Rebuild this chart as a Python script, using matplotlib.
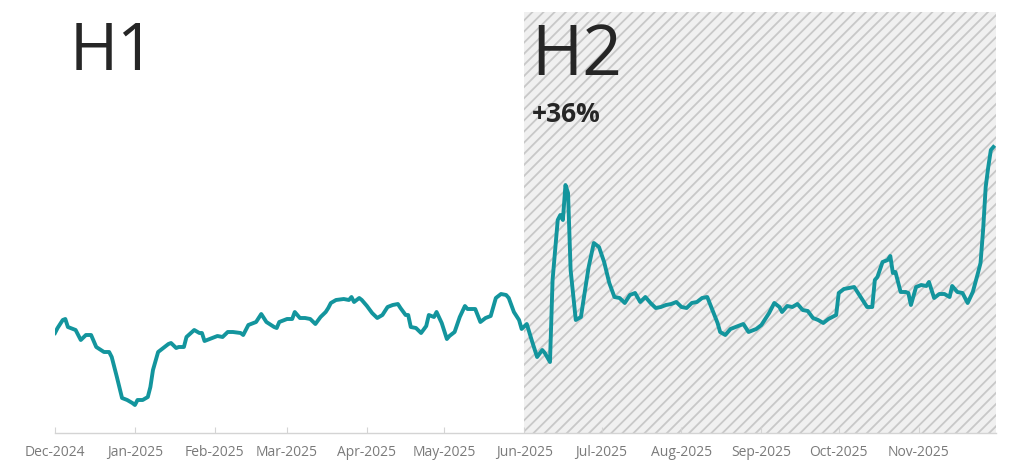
import matplotlib
matplotlib.use("Agg")
import matplotlib.pyplot as plt
import matplotlib.dates as mdates
import numpy as np
import pandas as pd

# days since 2024-12-01 and index values
days = [0, 1, 3, 4, 5, 7, 8, 10, 12, 14, 16, 19, 21, 22, 24, 26, 28, 30, 31, 32,
        34, 36, 37, 38, 40, 42, 44, 45, 47, 48, 50, 51, 54, 56, 57, 58, 61, 63, 65, 67,
        69, 72, 73, 75, 78, 80, 82, 85, 86, 87, 90, 92, 93, 95, 97, 99, 101, 103, 105, 106,
        107, 109, 112, 114, 115, 116, 118, 119, 121, 123, 125, 127, 129, 131, 133, 134, 136, 137, 138, 140,
        142, 144, 145, 147, 148, 150, 152, 153, 155, 157, 159, 160, 163, 165, 167, 169, 171, 173, 175, 176,
        178, 180, 181, 183, 185, 187, 189, 190, 192, 193, 195, 196, 197, 198, 199, 200, 202, 204, 205, 207,
        209, 211, 213, 215, 217, 219, 221, 223, 225, 227, 229, 231, 233, 235, 237, 239, 241, 243, 245, 247,
        249, 251, 253, 255, 257, 258, 260, 262, 264, 267, 269, 272, 274, 276, 277, 279, 281, 282, 284, 286,
        288, 290, 292, 294, 296, 298, 300, 303, 304, 306, 308, 310, 312, 314, 315, 317, 318, 319, 321, 323,
        324, 325, 326, 328, 330, 331, 332, 334, 336, 338, 339, 341, 343, 345, 347, 348, 350, 352, 353, 354,
        356, 358, 359, 360, 361, 362, 363, 364]
values = [112, 117, 125, 126, 118, 116, 115, 105, 110, 110, 98, 93, 93, 88, 68, 47, 45, 42, 40, 45,
          45, 48, 58, 75, 93, 97, 101, 102, 97, 98, 98, 108, 115, 112, 112, 104, 107, 109, 108, 113,
          113, 112, 110, 120, 123, 131, 123, 118, 117, 123, 126, 126, 133, 127, 127, 126, 121, 128, 133, 137,
          142, 145, 146, 145, 148, 143, 147, 145, 139, 132, 127, 130, 138, 140, 141, 137, 130, 130, 118, 117,
          112, 119, 130, 128, 133, 122, 106, 109, 113, 128, 139, 136, 136, 123, 127, 129, 147, 151, 150, 147,
          133, 125, 116, 121, 104, 88, 95, 92, 83, 165, 225, 230, 225, 260, 252, 175, 125, 128, 145, 178,
          202, 198, 183, 162, 148, 147, 142, 150, 152, 143, 148, 142, 137, 138, 140, 141, 143, 138, 137, 142,
          143, 147, 148, 135, 122, 113, 110, 116, 118, 121, 113, 116, 120, 128, 132, 142, 138, 133, 139, 138,
          141, 135, 134, 127, 125, 122, 126, 130, 152, 156, 157, 158, 150, 142, 138, 138, 165, 168, 183, 185,
          189, 172, 173, 153, 153, 152, 140, 158, 160, 159, 163, 147, 151, 151, 148, 159, 153, 152, 147, 142,
          153, 172, 182, 215, 258, 278, 295, 298]

start = pd.Timestamp("2024-12-01")
h2_start = pd.Timestamp("2025-06-01")
end = pd.Timestamp("2025-12-01")
dates = start + pd.to_timedelta(days, unit="D")
month_ticks = pd.date_range(start, "2025-11-01", freq="MS")

plt.rcParams['font.family'] = ['Open Sans', 'DejaVu Sans']
plt.rcParams['hatch.linewidth'] = 1.3

fig = plt.figure(figsize=(10.24, 4.67), dpi=100)
ax = fig.add_axes([55 / 1024, 1 - 433 / 467, 941 / 1024, 421 / 467])

ax.axvspan(h2_start, end, facecolor='#f0f0f0', edgecolor='#c8c8c8', hatch='///',
           linewidth=0, zorder=0)
ax.plot(dates, values, color='#13959d', linewidth=2.8, solid_joinstyle='round', zorder=3)

ax.set_xlim(start, end)
ax.set_ylim(12, 433)

ax.set_xticks(month_ticks)
ax.xaxis.set_major_formatter(mdates.DateFormatter('%b-%Y'))
ax.tick_params(axis='x', direction='in', length=4, color='#d4d4d4', labelsize=10,
               labelcolor='#7a7a7a', pad=16.5)
for lbl in ax.get_xticklabels():
    lbl.set_verticalalignment('baseline')
ax.set_yticks([])
for side in ['top', 'right', 'left']:
    ax.spines[side].set_visible(False)
ax.spines['bottom'].set_color('#d4d4d4')
ax.spines['bottom'].set_linewidth(1)

fig.text(70 / 1024, 1 - 70 / 467, 'H1', fontsize=47, color='#262626', va='baseline')
fig.text(531 / 1024, 1 - 75 / 467, 'H2', fontsize=50, color='#262626', va='baseline')
fig.text(532 / 1024, 1 - 122 / 467, '+36%', fontsize=19, fontweight='bold',
         color='#262626', va='baseline')

fig.savefig('out.png', dpi=100)
